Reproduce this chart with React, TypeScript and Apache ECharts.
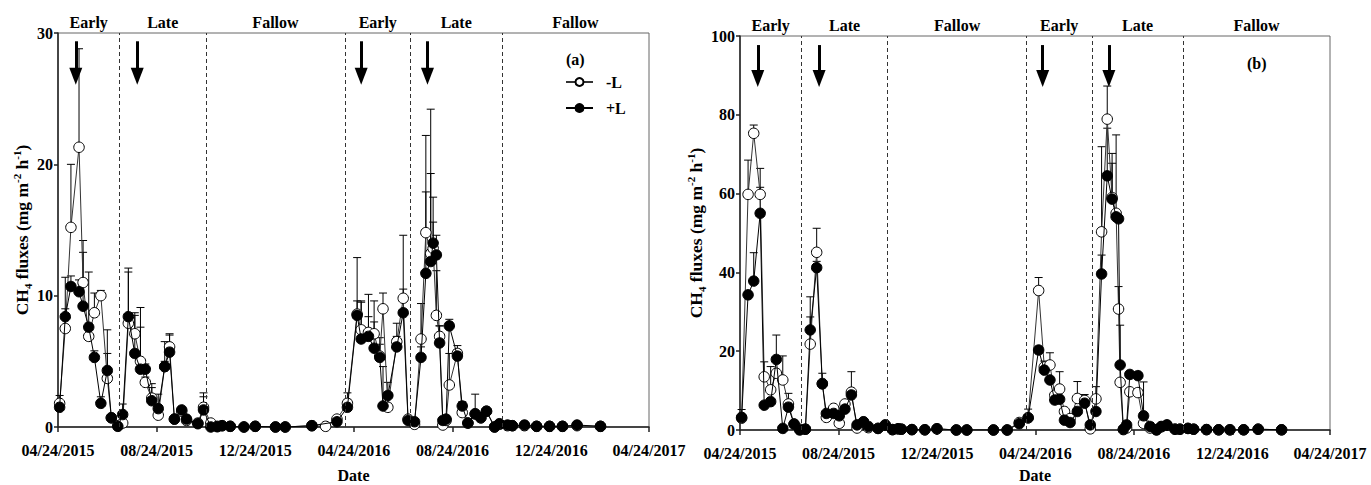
import React, { useEffect, useRef } from "react";
import * as echarts from "echarts";

const FONT = "'Liberation Serif', 'Times New Roman', serif";

// x axis: days since 04/24/2015
const tickLabels = ["04/24/2015", "08/24/2015", "12/24/2015", "04/24/2016", "08/24/2016", "12/24/2016", "04/24/2017"];
const seasonNames = ["Early", "Late", "Fallow", "Early", "Late", "Fallow"];
const seasonBounds = [0, 76, 183, 355, 436, 549, 731];
const fertilizationDays = [22, 98, 375, 457];

// Panel (a)
const daysA = [2, 9, 16, 26, 31, 38, 45, 53, 61, 66, 74, 80, 87, 95, 102, 108, 116, 124, 132, 138, 144, 153, 159, 173, 180, 189, 197, 203, 213, 230, 244, 269, 281, 314, 331, 345, 358, 370, 375, 384, 391, 398, 402, 408, 419, 427, 433, 441, 449, 455, 461, 464, 468, 472, 476, 480, 484, 494, 500, 507, 516, 523, 530, 540, 546, 556, 562, 577, 592, 608, 624, 642, 671];
const noLA = [1.8, 7.5, 15.2, 21.3, 11.0, 6.9, 8.7, 10.0, 3.7, 0.7, 0.1, 0.3, 7.9, 7.1, 5.0, 3.4, 2.2, 0.9, 4.6, 6.1, 0.6, 1.2, 0.5, 0.3, 1.5, 0.3, 0.05, 0.1, 0.05, 0, 0.05, 0, 0, 0.1, 0.05, 0.6, 1.8, 8.6, 7.4, 7.2, 7.1, 5.4, 9.0, 1.5, 6.5, 9.8, 0.6, 0.2, 6.7, 14.8, 13.2, 13.6, 8.5, 6.9, 0.15, 0.5, 3.2, 5.6, 1.1, 0.3, 1.0, 0.7, 1.2, 0.0, 0.2, 0.1, 0.1, 0.1, 0.05, 0.05, 0.05, 0.1, 0.05];
const plusLA = [1.5, 8.4, 10.7, 10.3, 9.2, 7.6, 5.3, 1.8, 4.3, 0.7, 0.05, 0.95, 8.4, 5.6, 4.4, 4.4, 2.0, 1.4, 4.6, 5.7, 0.6, 1.3, 0.6, 0.25, 1.3, 0.0, 0.02, 0.1, 0.05, 0, 0.05, 0, 0, 0.1, null, 0.4, 1.5, 8.5, 6.7, 6.9, 6.0, 5.3, 1.6, 2.4, 6.1, 8.7, 0.5, 0.4, 5.3, 11.7, 12.6, 14.0, 13.1, 6.4, 0.5, 0.6, 7.7, 5.4, 1.6, 0.3, 1.0, 0.7, 1.2, 0.0, 0.25, 0.15, 0.1, 0.15, 0.05, 0.05, 0.05, 0.15, 0.05];
const errNoLA = [0.6, 1.5, 4.8, 7.5, 3.2, 1.0, 1.5, 0.4, 1.9, 0, 0, 0, 4.2, 1.6, 4.1, 0.4, 1.1, 0, 1.9, 1.0, 0, 0, 0, 0, 1.1, 0, 0, 0, 0, 0, 0, 0, 0, 0, 0, 0, 0.8, 4.3, 2.2, 2.9, 2.5, 1.4, 1.2, 0.3, 1.4, 4.8, 0, 0, 2.7, 7.4, 11.0, 2.0, 3.4, 0.8, 0, 0, 2.4, 0.6, 0.8, 0, 0, 0, 0, 0, 0, 0, 0, 0, 0, 0, 0, 0, 0];
const errPlusLA = [0.3, 3.0, 0.8, 0.9, 4.1, 4.2, 0.5, 0.5, 3.1, 0, 0, 0.8, 3.4, 2.9, 3.2, 0.4, 1.0, 1.1, 0.4, 1.3, 0, 0, 0, 0, 1.0, 0, 0, 0, 0, 0, 0, 0, 0, 0, 0, 0, 0.6, 1.1, 2.8, 1.5, 2.0, 1.0, 3.0, 1.0, 0.8, 1.8, 0, 0, 0.8, 6.2, 6.7, 3.5, 1.5, 1.3, 0, 0, 0.5, 0.5, 0.3, 0, 1.5, 0, 0, 0, 0, 0, 0, 0, 0, 0, 0, 0, 0];

// Panel (b)
const daysB = [2, 10, 17, 25, 30, 38, 45, 53, 60, 67, 74, 81, 87, 95, 102, 107, 116, 123, 130, 138, 145, 153, 159, 171, 180, 189, 196, 200, 213, 229, 244, 268, 281, 314, 331, 346, 357, 370, 377, 384, 390, 396, 402, 409, 418, 427, 434, 441, 448, 455, 461, 466, 469, 471, 475, 479, 483, 493, 500, 508, 516, 522, 529, 539, 545, 555, 562, 578, 593, 607, 624, 642, 671];
const noLB = [3.0, 59.8, 75.3, 59.8, 13.5, 10.2, 14.4, 12.7, 6.6, 1.5, 0.2, 0.2, 21.8, 45.1, 11.8, 3.2, 5.5, 1.7, 6.6, 9.6, 0.5, 2.0, 0.6, 0.4, 1.2, 0.1, 0.3, 0.2, 0.1, 0.05, 0.3, 0, 0, 0, 0, 1.9, 3.1, 35.4, 16.0, 16.5, 8.8, 10.4, 4.7, 2.9, 8.0, 7.5, 0.3, 7.9, 50.3, 78.9, 59.0, 55.0, 30.7, 12.1, 0.1, 0.5, 9.7, 9.5, 1.7, 0.5, 0.1, 0.8, 1.2, 0.2, 0.2, 0.4, 0.2, 0.1, 0.05, 0.05, 0.05, 0.2, 0.05];
const plusLB = [3.2, 34.3, 37.8, 55.0, 6.3, 7.2, 17.9, 0.4, 5.8, 1.5, 0.0, 0.2, 25.4, 41.2, 11.7, 4.2, 4.2, 3.6, 5.3, 8.9, 1.3, 2.1, 0.9, 0.4, 1.3, 0.1, 0.3, 0.2, 0.1, 0.05, 0.3, 0, 0, 0, 0, 1.6, 3.1, 20.3, 15.2, 12.7, 7.6, 7.8, 2.5, 1.9, 4.7, 6.8, 1.3, 4.7, 39.6, 64.5, 58.6, 54.1, 53.6, 16.5, 0.2, 1.3, 14.1, 13.8, 3.6, 0.9, 0.0, 0.9, 1.3, 0.2, 0.2, 0.4, 0.2, 0.1, 0.05, 0.05, 0.05, 0.2, 0.05];
const errNoLB = [0, 8.7, 2.1, 6.6, 3.8, 5.9, 0, 6.1, 0, 0, 0, 0, 6.9, 6.1, 0, 0, 0, 0, 0, 0, 0, 0, 0, 0, 0, 0, 0, 0, 0, 0, 0, 0, 0, 0, 0, 0, 0, 3.3, 1.5, 3.1, 0, 4.4, 0, 0, 4.3, 0, 0, 3.1, 21.6, 8.4, 11.2, 0, 5.7, 0, 0, 0, 0, 0, 0, 0, 0, 0, 0, 0, 0, 0, 0, 0, 0, 0, 0, 0, 0];
const errPlusLB = [2.0, 0, 7.2, 6.6, 0, 0, 6.2, 0, 3.5, 0, 0, 0, 8.4, 1.6, 2.7, 0, 0, 0, 0, 5.9, 0, 0, 0, 0, 0, 0, 0, 0, 0, 0, 0, 0, 0, 0, 0, 0, 2.2, 0, 0, 0, 0, 0, 0, 0, 0, 2.2, 0, 0, 4.8, 12.1, 9.1, 20.8, 0, 10.1, 0, 0, 0, 0, 8.6, 1.0, 0, 0, 0, 0, 0, 0, 0, 0, 0, 0, 0, 0, 0];

const boldText = { fontFamily: FONT, fontWeight: "bold", fontSize: 16, color: "#000" };

function renderErr(params: any, api: any) {
  const x = api.value(0);
  const y = api.value(1);
  const e = api.value(2);
  if (!(e > 0)) return { type: "group", children: [] };
  const p0 = api.coord([x, y]);
  const p1 = api.coord([x, y + e]);
  const s = { stroke: "#000", lineWidth: 1 };
  return {
    type: "group",
    children: [
      { type: "line", shape: { x1: p0[0], y1: p0[1], x2: p1[0], y2: p1[1] }, style: s },
      { type: "line", shape: { x1: p1[0] - 4, y1: p1[1], x2: p1[0] + 4, y2: p1[1] }, style: s },
    ],
  };
}

function panelSeries(p: number, days: number[], noL: any[], plusL: any[], eNoL: number[], ePlusL: number[], arrowTop: number, arrowMid: number) {
  const mk = (vals: any[]) => days.map((d, i) => [d, vals[i]]);
  const mkErr = (vals: any[], errs: number[]) =>
    days.map((d, i) => [d, vals[i], errs[i]]).filter((r) => r[1] != null);
  const dashed = seasonBounds.slice(1, 6).map((b) => ({
    xAxis: b,
    symbol: "none",
    lineStyle: { type: [4, 3], width: 1, color: "#333" },
  }));
  const arrows = fertilizationDays.map((d) => [
    { coord: [d, arrowTop], symbol: "none", lineStyle: { type: "solid", width: 3, color: "#000" } },
    { coord: [d, arrowMid], symbol: "triangle", symbolSize: [13, 17], lineStyle: { type: "solid", width: 3, color: "#000" } },
  ]);
  return [
    {
      type: "custom", name: "errNoL" + p, xAxisIndex: p, yAxisIndex: p, z: 1, silent: true,
      renderItem: renderErr, data: mkErr(noL, eNoL), encode: { x: 0, y: 1 },
    },
    {
      type: "custom", name: "errPlusL" + p, xAxisIndex: p, yAxisIndex: p, z: 1, silent: true,
      renderItem: renderErr, data: mkErr(plusL, ePlusL), encode: { x: 0, y: 1 },
    },
    {
      type: "line", name: "-L", xAxisIndex: p, yAxisIndex: p, z: 3,
      data: mk(noL), connectNulls: true, symbol: "circle", symbolSize: 10.5, showAllSymbol: true,
      lineStyle: { color: "#333", width: 1 },
      itemStyle: { color: "#fff", borderColor: "#000", borderWidth: 1 },
      markLine: {
        silent: true, symbol: ["none", "none"], label: { show: false },
        lineStyle: { color: "#222" },
        data: [...dashed, ...arrows],
      },
    },
    {
      type: "line", name: "+L", xAxisIndex: p, yAxisIndex: p, z: 4,
      data: mk(plusL), connectNulls: true, symbol: "circle", symbolSize: 10.5, showAllSymbol: true,
      lineStyle: { color: "#000", width: 1 },
      itemStyle: { color: "#000", borderColor: "#000", borderWidth: 1 },
      markArea: {
        silent: true,
        itemStyle: { color: "rgba(0,0,0,0)" },
        label: { show: true, position: "top", distance: 3, ...boldText },
        data: seasonNames.map((n, i) => [{ name: n, xAxis: seasonBounds[i] }, { xAxis: seasonBounds[i + 1] }]),
      },
    },
  ];
}

const yName = "{t|CH}{s|4}{t| fluxes (mg m}{p|-2}{t| h}{p|-1}{t|)}";
const yNameStyle = {
  rich: {
    t: { fontFamily: FONT, fontWeight: "bold", fontSize: 17.5, color: "#000", lineHeight: 22 },
    s: { fontFamily: FONT, fontWeight: "bold", fontSize: 11, color: "#000", lineHeight: 14, verticalAlign: "bottom" },
    p: { fontFamily: FONT, fontWeight: "bold", fontSize: 11, color: "#000", lineHeight: 14, verticalAlign: "top" },
  },
};

function xAxisCfg(p: number, nameGap: number) {
  return {
    type: "value", gridIndex: p, min: 0, max: 731, interval: 122,
    axisLine: { show: true, lineStyle: { color: "#222", width: 1.5 } },
    axisTick: { show: true, length: 5, lineStyle: { color: "#222", width: 1.5 } },
    axisLabel: {
      margin: 15, ...boldText,
      formatter: (v: number) => tickLabels[Math.round(v / 122)] ?? "",
    },
    splitLine: { show: false },
    name: "Date", nameLocation: "middle", nameGap, nameTextStyle: boldText,
  };
}

function yAxisCfg(p: number, max: number, interval: number, gap: number) {
  return {
    type: "value", gridIndex: p, min: 0, max, interval,
    axisLine: { show: true, lineStyle: { color: "#222", width: 1.5 } },
    axisTick: { show: true, length: 4, lineStyle: { color: "#222", width: 1.5 } },
    axisLabel: { margin: 5, ...boldText },
    splitLine: { show: false },
    name: yName, nameLocation: "middle", nameGap: gap, nameRotate: 90, nameTextStyle: yNameStyle,
  };
}

function buildOption() {
  return {
    animation: false,
    backgroundColor: "#fff",
    grid: [
      { left: 58, top: 33, width: 591, height: 394, show: true, borderColor: "#666", borderWidth: 1, backgroundColor: "transparent", containLabel: false, outerBoundsMode: "none" },
      { left: 740, top: 36, width: 590, height: 394, show: true, borderColor: "#666", borderWidth: 1, backgroundColor: "transparent", containLabel: false, outerBoundsMode: "none" },
    ],
    xAxis: [xAxisCfg(0, 40), xAxisCfg(1, 37)],
    yAxis: [yAxisCfg(0, 30, 10, 21), yAxisCfg(1, 100, 20, 30)],
    legend: {
      data: ["-L", "+L"], orient: "vertical", left: 565, top: 74, padding: 0,
      itemWidth: 27, itemHeight: 10, itemGap: 10, selectedMode: false,
      textStyle: { ...boldText, padding: [0, 0, 0, 8] },
    },
    graphic: [
      { type: "text", left: 566, top: 51, style: { text: "(a)", fill: "#000", fontFamily: FONT, fontWeight: "bold", fontSize: 16 } },
      { type: "text", left: 1247, top: 55, style: { text: "(b)", fill: "#000", fontFamily: FONT, fontWeight: "bold", fontSize: 16 } },
    ],
    series: [
      ...panelSeries(0, daysA, noLA, plusLA, errNoLA, errPlusLA, 29.37, 26.7),
      ...panelSeries(1, daysB, noLB, plusLB, errNoLB, errPlusLB, 97.7, 89.2),
    ],
  };
}

export default function App() {
  const ref = useRef<HTMLDivElement>(null);
  useEffect(() => {
    const chart = echarts.init(ref.current as HTMLDivElement, null, { renderer: "svg" });
    chart.setOption(buildOption() as any);
    return () => chart.dispose();
  }, []);
  return (
    <div
      ref={ref}
      style={{ position: "fixed", left: 0, top: 0, width: 1371, height: 485, background: "#fff" }}
    />
  );
}
